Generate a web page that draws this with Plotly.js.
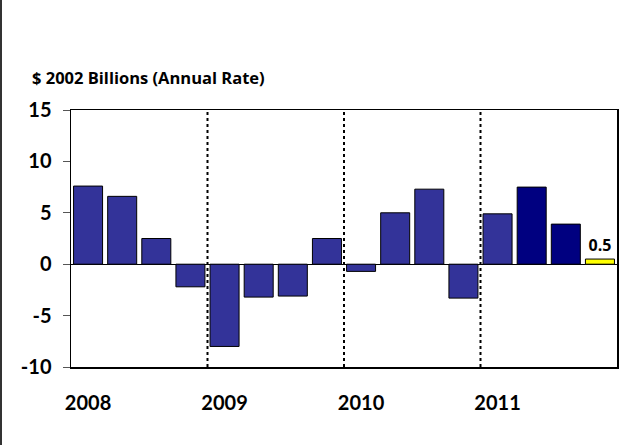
<!DOCTYPE html>
<html>
<head>
<meta charset="utf-8">
<script src="https://cdn.plot.ly/plotly-3.0.1.min.js"></script>
<style>
html,body{margin:0;padding:0;background:#fff;}
#wrap{position:relative;width:623px;height:445px;}
#chart{width:623px;height:445px;}
#edge{position:absolute;left:0;top:0;width:2px;height:445px;background:#333;}
</style>
</head>
<body>
<div id="wrap"><div id="chart"></div><div id="edge"></div></div>
<script>
const quarters = ["2008Q1","2008Q2","2008Q3","2008Q4","2009Q1","2009Q2","2009Q3","2009Q4",
                  "2010Q1","2010Q2","2010Q3","2010Q4","2011Q1","2011Q2","2011Q3","2011Q4"];
const values = [7.6, 6.6, 2.5, -2.2, -8.0, -3.2, -3.1, 2.5, -0.7, 5.0, 7.3, -3.3, 4.9, 7.5, 3.9, 0.5];
const barColors = ["#333399","#333399","#333399","#333399","#333399","#333399","#333399","#333399",
                   "#333399","#333399","#333399","#333399","#333399","#000080","#000080","#FFFF00"];
const barLabels = ["","","","","","","","","","","","","","","","0.5"];
const yearTickVals = ["2008Q1","2009Q1","2010Q1","2011Q1"];
const yearTickText = ["2008","2009","2010","2011"];
const yTickVals = [-10,-5,0,5,10,15];
const yTickText = ["-10","-5","0","5","10","15"];
const yearDividers = [3.5, 7.5, 11.5];

const FONT = "Lato, 'Open Sans', sans-serif";
const FONT2 = "'Open Sans', Lato, sans-serif";

const trace = {
  type: "bar",
  x: quarters,
  y: values,
  marker: {color: barColors, line: {color: "#000", width: 1}},
  text: barLabels,
  textposition: "outside",
  cliponaxis: false,
  textfont: {family: FONT2, size: 16, color: "#000", weight: "bold"},
  hoverinfo: "x+y"
};

const shapes = yearDividers.map(x => ({
  type: "line", xref: "x", yref: "paper", x0: x, x1: x, y0: 0, y1: 1,
  line: {color: "#000", width: 2, dash: "3px,3px"}
}));

const layout = {
  width: 623, height: 445,
  margin: {l: 71, r: 6, t: 110, b: 78},
  paper_bgcolor: "#fff", plot_bgcolor: "#fff",
  showlegend: false,
  bargap: 0.15,
  font: {family: FONT, color: "#000"},
  xaxis: {
    type: "category",
    categoryorder: "array", categoryarray: quarters,
    tickmode: "array", tickvals: yearTickVals, ticktext: yearTickText,
    ticks: "", showgrid: false, zeroline: false,
    showline: true, linecolor: "#000", linewidth: 1.5, mirror: true,
    tickfont: {family: FONT, size: 20, weight: "bold", color: "#000"},
    ticklabelstandoff: 17
  },
  yaxis: {
    range: [-10, 15], tickmode: "array", tickvals: yTickVals, ticktext: yTickText,
    ticks: "outside", ticklen: 7, tickcolor: "#555", tickwidth: 1,
    showgrid: false, zeroline: true, zerolinecolor: "#000", zerolinewidth: 1,
    showline: true, linecolor: "#000", linewidth: 1.5, mirror: true,
    tickfont: {family: FONT, size: 20, weight: "bold", color: "#000"},
    ticklabelstandoff: 7
  },
  shapes: shapes,
  annotations: [{
    text: "$ 2002 Billions (Annual Rate)", xref: "paper", yref: "paper",
    x: -41/546, y: 1 + 33/257, xanchor: "left", yanchor: "middle", showarrow: false,
    font: {family: FONT2, size: 16.5, weight: "bold", color: "#000"}
  }]
};

Plotly.newPlot("chart", [trace], layout, {displayModeBar: false, staticPlot: true});
</script>
</body>
</html>
